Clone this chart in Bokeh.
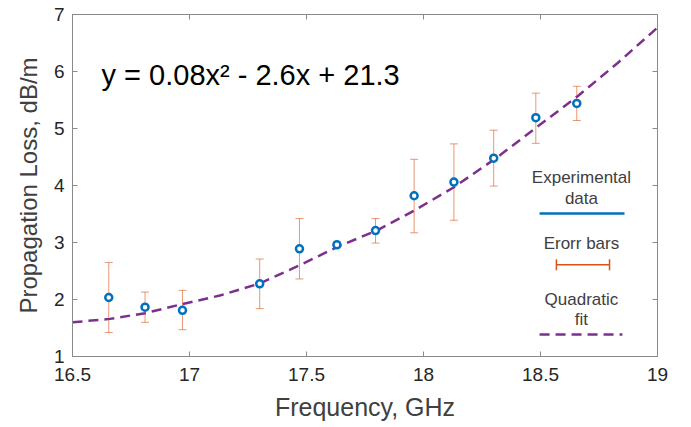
from bokeh.plotting import figure
from bokeh.models import (ColumnDataSource, Whisker, TeeHead, FixedTicker, LinearAxis,
                          Range1d, Label, Title)
from bokeh.embed import file_html
from bokeh.resources import INLINE

# ---- data ----
freq = [16.655, 16.81, 16.97, 17.30, 17.47, 17.63, 17.795, 17.96, 18.13, 18.30, 18.48, 18.655]
loss = [2.035, 1.865, 1.81, 2.275, 2.89, 2.96, 3.21, 3.82, 4.06, 4.48, 5.19, 5.44]
err_low = [1.42, 1.60, 1.47, 1.84, 2.36, 2.93, 2.99, 3.17, 3.39, 3.99, 4.74, 5.14]
err_high = [2.65, 2.13, 2.16, 2.71, 3.42, 3.02, 3.42, 4.46, 4.73, 4.97, 5.62, 5.74]

fit_x = [16.5, 16.66, 16.81, 16.97, 17.13, 17.30, 17.47, 17.63, 17.80, 17.96, 18.13, 18.31, 18.48, 18.66, 18.83, 19.0]
fit_y = [1.60, 1.66, 1.76, 1.92, 2.07, 2.28, 2.60, 2.92, 3.21, 3.56, 3.97, 4.48, 5.01, 5.57, 6.15, 6.77]

x_ticks = [16.5, 17, 17.5, 18, 18.5, 19]
y_ticks = [1, 2, 3, 4, 5, 6, 7]

equation = "y = 0.08x\u00b2 - 2.6x + 21.3"
legend_texts = ["Experimental", "data", "Erorr bars", "Quadratic", "fit"]
x_title = "Frequency, GHz"
y_title = "Propagation Loss, dB/m"

BLUE = "#0072BD"
ORANGE = "#D95319"
PURPLE = "#7E2F8E"
AXIS_C = "#8a8a8a"
FONT = "Liberation Sans"

p = figure(width=691, height=427, output_backend="svg", toolbar_location=None,
           x_range=Range1d(16.5, 19), y_range=Range1d(1, 7),
           min_border_left=72, min_border_right=34, min_border_top=14, min_border_bottom=71)
p.grid.visible = False
p.outline_line_color = AXIS_C
p.outline_line_width = 1

for ax in p.xaxis + p.yaxis:
    ax.axis_line_color = AXIS_C
    ax.major_tick_line_color = AXIS_C
    ax.major_tick_in = 5
    ax.major_tick_out = 0
    ax.minor_tick_line_color = None
    ax.major_label_text_font = FONT
    ax.major_label_text_font_size = "19px"
    ax.major_label_text_color = "#262626"
    ax.axis_label_text_font = FONT
    ax.axis_label_text_font_size = "25px"
    ax.axis_label_text_font_style = "normal"
    ax.axis_label_text_color = "#404040"

p.xaxis.ticker = FixedTicker(ticks=x_ticks)
p.yaxis.ticker = FixedTicker(ticks=y_ticks)
p.xaxis.major_label_standoff = 11
p.yaxis.major_label_standoff = 8
p.xaxis.axis_label = x_title
p.xaxis.axis_label_standoff = 9

top = LinearAxis(ticker=FixedTicker(ticks=x_ticks),
                 major_label_overrides={t: "" for t in x_ticks},
                 major_label_standoff=0, major_tick_in=5, major_tick_out=0,
                 minor_tick_line_color=None, axis_line_color=AXIS_C, major_tick_line_color=AXIS_C)
right = LinearAxis(ticker=FixedTicker(ticks=y_ticks),
                   major_label_overrides={t: "" for t in y_ticks},
                   major_label_standoff=0, major_tick_in=5, major_tick_out=0,
                   minor_tick_line_color=None, axis_line_color=AXIS_C, major_tick_line_color=AXIS_C)
p.add_layout(top, "above")
p.add_layout(right, "right")

# y-axis title as a side title (lets it sit slightly above the frame centre, as in the reference)
p.add_layout(Title(text=y_title, align="center", offset=26, text_font=FONT,
                   text_font_size="24px", text_font_style="normal", text_color="#404040",
                   standoff=18), "left")

# error bars
src = ColumnDataSource(dict(x=freq, y=loss, lo=err_low, hi=err_high))
wh = Whisker(base="x", lower="lo", upper="hi", source=src,
             line_color=ORANGE, line_alpha=0.6, line_width=1,
             upper_head=TeeHead(size=8, line_color=ORANGE, line_alpha=0.6, line_width=1),
             lower_head=TeeHead(size=8, line_color=ORANGE, line_alpha=0.6, line_width=1))
p.add_layout(wh)

# fit curve
p.line(fit_x, fit_y, line_color=PURPLE, line_width=2.5, line_dash="10 6")

# data points
p.scatter("x", "y", source=src, marker="circle", size=7, fill_color="white",
          line_color=BLUE, line_width=2.5)

# equation
p.add_layout(Label(x=16.624, y=5.93, text=equation, text_font=FONT, text_font_size="29px",
                   text_color="black", text_baseline="middle", text_align="left"))

# custom legend
lx = 18.675
ly = [4.146, 3.777, 2.977, 1.995, 1.649]
for t, yy in zip(legend_texts, ly):
    p.add_layout(Label(x=lx, y=yy, text=t, text_font=FONT, text_font_size="17px",
                       text_color="#404040", text_align="center", text_baseline="middle"))

p.line([18.496, 18.859], [3.51, 3.51], line_color=BLUE, line_width=2.5)
leg_src = ColumnDataSource(dict(y=[2.61], lo=[18.568], hi=[18.795]))
p.add_layout(Whisker(base="y", lower="lo", upper="hi", dimension="width", source=leg_src,
                     line_color=ORANGE, line_width=1.5,
                     upper_head=TeeHead(size=11, line_color=ORANGE, line_width=1.5),
                     lower_head=TeeHead(size=11, line_color=ORANGE, line_width=1.5)))
p.line([18.496, 18.85], [1.386, 1.386], line_color=PURPLE, line_width=2.5, line_dash="10 6")

open("out.html", "w").write(file_html(p, INLINE))
